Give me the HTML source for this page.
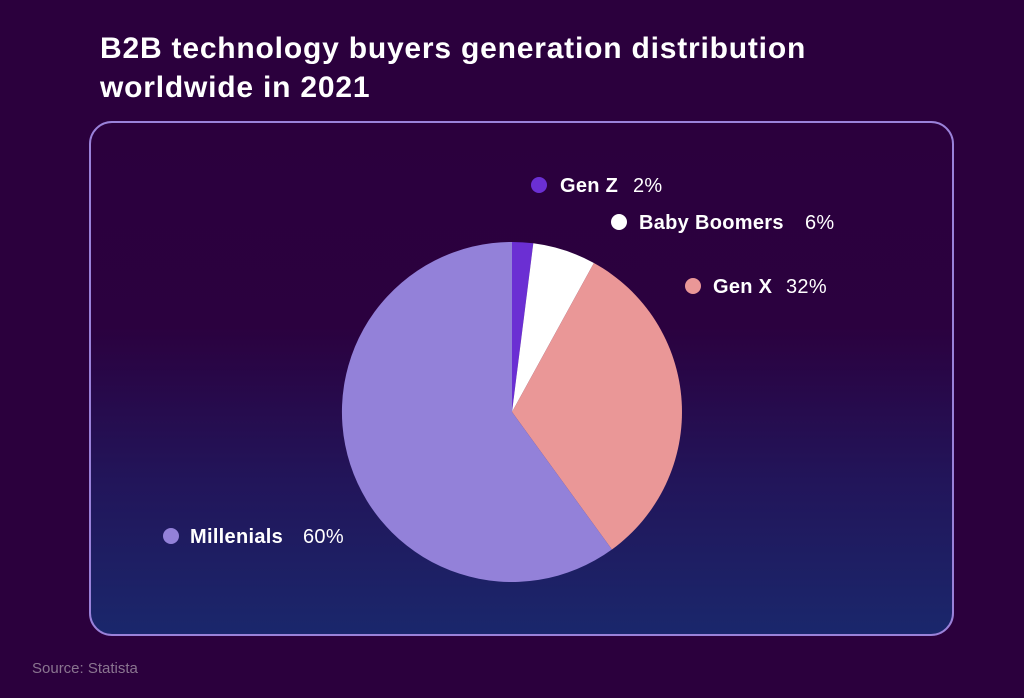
<!DOCTYPE html>
<html><head><style>
body{margin:0;width:1024px;height:693px;background:#2b003d;overflow:hidden;font-family:"Liberation Sans",sans-serif;}
</style></head><body>
<svg width="1024" height="693" xmlns="http://www.w3.org/2000/svg">
<defs>
<linearGradient id="g" x1="0" y1="0" x2="0" y2="1">
<stop offset="0" stop-color="#2b003d"/>
<stop offset="0.4" stop-color="#2b013f"/>
<stop offset="0.7" stop-color="#22155a"/>
<stop offset="1" stop-color="#1a276c"/>
</linearGradient>
</defs>
<text x="100" y="58" fill="#fff" font-size="30" font-weight="bold" letter-spacing="0.8">B2B technology buyers generation distribution</text>
<text x="100" y="97" fill="#fff" font-size="30" font-weight="bold" letter-spacing="0.8">worldwide in 2021</text>
<rect x="90" y="122" width="863" height="513" rx="22" fill="url(#g)" stroke="#9a82da" stroke-width="2"/>
<path d="M512,412 L512,242 A170,170 0 0 1 533.3,243.3 Z" fill="#6b2fd3"/>
<path d="M512,412 L533.3,243.3 A170,170 0 0 1 593.9,263 Z" fill="#ffffff"/>
<path d="M512,412 L593.9,263 A170,170 0 0 1 611.9,549.5 Z" fill="#ea9797"/>
<path d="M512,412 L611.9,549.5 A170,170 0 1 1 512,242 Z" fill="#9381d9"/>
<g font-size="20" fill="#fff" letter-spacing="0.3">
<circle cx="539" cy="185" r="8" fill="#6b2fd3"/>
<text x="560" y="192" font-weight="bold">Gen Z</text><text x="633" y="192">2%</text>
<circle cx="619" cy="222" r="8" fill="#fff"/>
<text x="639" y="229" font-weight="bold">Baby Boomers</text><text x="805" y="229">6%</text>
<circle cx="693" cy="286" r="8" fill="#ea9797"/>
<text x="713" y="293" font-weight="bold">Gen X</text><text x="786" y="293">32%</text>
<circle cx="171" cy="536" r="8" fill="#9381d9"/>
<text x="190" y="543" font-weight="bold">Millenials</text><text x="303" y="543">60%</text>
</g>
<text x="32" y="673" fill="#8a7590" font-size="15">Source: Statista</text>
</svg>
</body></html>
